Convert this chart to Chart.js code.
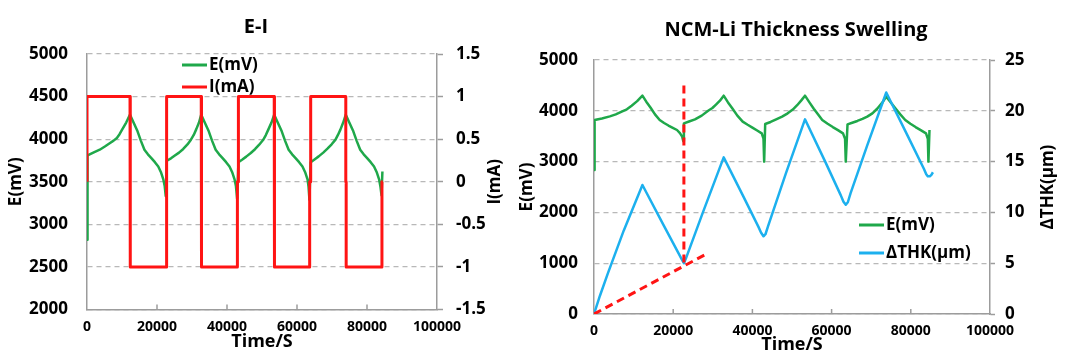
<!DOCTYPE html>
<html><head><meta charset="utf-8">
<script src="https://cdn.jsdelivr.net/npm/chart.js@4.4.1/dist/chart.umd.min.js"></script>
<style>
html,body{margin:0;padding:0;background:#fff;width:1080px;height:361px;overflow:hidden}
#left{position:absolute;left:0;top:0;width:512px;height:361px}
#right{position:absolute;left:512px;top:0;width:568px;height:361px}
</style></head><body>
<div id="left"><canvas id="c1"></canvas></div>
<div id="right"><canvas id="c2"></canvas></div>
<script>
// ---------- Left chart: E-I ----------
const eiTitle = 'E-I';
const eiLabels = ['E(mV)', 'I(mA)'];
const eiXTicks = [0, 20000, 40000, 60000, 80000, 100000];
const eiVoltTime = [0,150,1800,3640,5100,6590,7600,8540,9300,10030,11200,12290,
  13300,14440,15400,16410,17400,18390,19400,20360,21100,21830,22200,22500,
  22810,24000,25000,26300,27500,28700,29700,30500,31200,32000,32640,
  33640,34790,35750,36760,37750,38740,39750,40710,41450,42180,42550,42900,
  43260,44400,45500,46800,48000,49200,50300,51100,51800,52700,53490,
  54490,55640,56600,57610,58600,59590,60600,61560,62300,63030,63300,63550,
  63910,65000,66200,67500,68700,69900,71000,71700,72400,73200,73940,
  74940,76090,77050,78060,79050,80040,81050,82010,82750,83480,83850,84150,84400];
const eiVolt = [2820,3810,3843,3876,3914,3955,3983,4014,4058,4112,4195,4288,
  4195,4092,3980,3876,3822,3778,3730,3680,3615,3524,3450,3330,
  3747,3775,3805,3842,3885,3938,3994,4050,4115,4195,4288,
  4195,4092,3980,3876,3822,3778,3730,3680,3615,3524,3450,3300,
  3730,3762,3795,3838,3882,3935,3990,4048,4112,4195,4288,
  4195,4092,3980,3876,3822,3778,3730,3680,3615,3524,3440,3290,
  3730,3762,3798,3842,3888,3940,3995,4050,4112,4195,4288,
  4195,4092,3980,3876,3822,3778,3730,3680,3615,3524,3440,3340,3620];
const eiCurrTime = [0,0,12290,12290,12400,12400,22620,22620,22810,22810,32640,32640,32750,32750,
  42970,42970,43260,43260,53490,53490,53600,53600,63620,63620,63910,63910,73940,73940,
  74050,74050,84270,84270,84500];
const eiCurr = [0,1,1,0,0,-1,-1,0,0,1,1,0,0,-1,-1,0,0,1,1,0,0,-1,-1,0,0,1,1,0,0,-1,-1,0,0];

// ---------- Right chart: NCM-Li Thickness Swelling ----------
const thkTitle = 'NCM-Li Thickness Swelling';
const thkLabels = ['E(mV)', 'ΔTHK(μm)'];
const thkVoltTime = [0,150,2000,4000,5500,7000,8300,9500,10900,12230,
  13200,14300,15400,16590,17700,18800,19900,20960,21700,22270,22550,22700,
  24000,25500,27200,28820,29900,30800,31800,32750,
  33800,35000,36200,37550,38800,40000,41200,42360,42800,42970,43230,
  44600,46000,47500,48910,50200,51300,52300,53280,
  54400,55500,56600,57640,59000,60300,61600,62880,63400,63580,64020,
  65200,66500,67800,69000,70300,71500,72700,73800,
  75000,76200,77400,78600,79900,81200,82500,83840,84300,84450,84720];
const thkVolt = [2835,3819,3850,3890,3930,3983,4030,4100,4190,4300,
  4180,4060,3930,3819,3760,3710,3665,3622,3560,3491,3400,3753,
  3790,3830,3905,4000,4055,4120,4200,4298,
  4170,4040,3905,3786,3725,3670,3612,3556,3450,3000,3740,
  3780,3830,3885,3950,4025,4110,4200,4298,
  4165,4040,3925,3819,3745,3680,3620,3556,3450,3000,3734,
  3765,3800,3840,3885,3950,4040,4150,4278,
  4160,4040,3925,3819,3745,3680,3620,3556,3450,3000,3622];
const thkTime = [0,1500,3500,7500,12230,17500,22200,22700,23200,27500,32750,37800,
  41500,42200,42800,43300,44000,48500,53280,58500,
  62300,63000,63580,64100,64800,69000,73800,79000,
  83300,83900,84280,84800,85200,85590];
const thkVal = [0,1.8,4.0,8.2,12.7,8.8,5.35,5.0,5.45,10.0,15.42,11.5,
  8.6,8.0,7.65,7.85,8.7,13.9,19.16,14.9,
  11.7,11.05,10.75,11.0,11.9,16.6,21.8,17.7,
  14.3,13.75,13.55,13.55,13.7,13.95];
const guideVertTime = [22700, 22700];
const guideVertVal = [4500, 970];
const guideDiagTime = [0, 28800];
const guideDiagVal = [0, 1200];

const FONT = "'Open Sans', sans-serif";
const GRID = '#b8b8b8', AXIS = '#9c9c9c';
const GREEN = '#1fa84a', RED = '#ff1414', BLUE = '#1cb0ee';
Chart.defaults.font.family = FONT;
Chart.defaults.font.weight = 'bold';
Chart.defaults.color = '#000';

function pts(xs, ys) { return xs.map((x, i) => ({x: x, y: ys[i]})); }

const sideTitle = {
  id: 'sideTitle',
  afterDraw(chart, args, o) {
    if (!o || !o.text) return;
    const ctx = chart.ctx, a = chart.chartArea;
    ctx.save();
    ctx.font = 'bold ' + o.size + 'px ' + FONT;
    ctx.fillStyle = '#000'; ctx.textAlign = 'center'; ctx.textBaseline = 'middle';
    ctx.translate(o.x, (a.top + a.bottom) / 2);
    ctx.rotate(-Math.PI / 2);
    ctx.fillText(o.text, 0, 0);
    ctx.restore();
  }
};
const innerTicks = {
  id: 'innerTicks',
  afterDraw(chart) {
    const s = chart.scales.x, a = chart.chartArea, ctx = chart.ctx;
    ctx.save(); ctx.strokeStyle = AXIS; ctx.lineWidth = 1.5;
    s.ticks.forEach(t => {
      const px = s.getPixelForValue(t.value);
      if (px <= a.left + 1 || px >= a.right - 1) return;
      ctx.beginPath(); ctx.moveTo(px, a.bottom); ctx.lineTo(px, a.bottom - 5); ctx.stroke();
    });
    ctx.restore();
  }
};
const floatLegend = {
  id: 'floatLegend',
  afterDraw(chart, args, o) {
    if (!o || !o.labels) return;
    const ctx = chart.ctx;
    ctx.save();
    ctx.font = 'bold ' + o.size + 'px ' + FONT;
    ctx.textBaseline = 'middle'; ctx.textAlign = 'left';
    let y = o.y;
    o.labels.forEach(lbl => {
      const ds = chart.data.datasets.find(d => d.label === lbl);
      if (!ds) return;
      ctx.strokeStyle = ds.borderColor; ctx.lineWidth = 3; ctx.setLineDash([]);
      ctx.beginPath(); ctx.moveTo(o.x, y); ctx.lineTo(o.x + o.line, y); ctx.stroke();
      ctx.fillStyle = '#000';
      ctx.fillText(lbl, o.x + o.line + o.gap, y);
      y += o.rowGap;
    });
    ctx.restore();
  }
};

function xScale(h, tickPad, titlePadB) {
  return {
    type: 'linear', min: 0, max: 100000,
    afterBuildTicks(s) { s.ticks = eiXTicks.map(v => ({value: v})); },
    ticks: {padding: tickPad, font: {size: 14, weight: 'bold'}, color: '#000', maxRotation: 0, autoSkip: false,
      callback: v => String(v)},
    grid: {display: true, drawOnChartArea: false, drawTicks: false},
    border: {display: true, color: AXIS, width: 1.5},
    title: {display: true, text: 'Time/S', font: {size: 18, weight: 'bold'}, color: '#000', padding: {top: 0, bottom: titlePadB}},
    afterFit(s) { s.height = h; }
  };
}

new Chart(document.getElementById('c1'), {
  type: 'line',
  data: {datasets: [
    {label: eiLabels[1], data: pts(eiCurrTime, eiCurr), yAxisID: 'y1', borderColor: RED, borderWidth: 3, order: 0},
    {label: eiLabels[0], data: pts(eiVoltTime, eiVolt), yAxisID: 'y', borderColor: GREEN, borderWidth: 2.5, order: 1}
  ]},
  options: {
    responsive: true, maintainAspectRatio: false, animation: false,
    elements: {point: {radius: 0}, line: {tension: 0, fill: false, borderJoinStyle: 'round'}},
    layout: {padding: 0},
    plugins: {
      legend: {display: false}, tooltip: {enabled: false},
      title: {display: true, text: eiTitle, font: {size: 20, weight: 'bold'}, color: '#000', padding: {top: 15, bottom: 15}},
      floatLegend: {labels: eiLabels, x: 182, y: 65, line: 25, gap: 2, rowGap: 22, size: 17},
      sideTitle: {text: 'I(mA)', x: 495, size: 17}
    },
    scales: {
      x: xScale(51.5, 9, 8),
      y: {position: 'left', min: 2000, max: 5000,
        ticks: {stepSize: 500, padding: 19, font: {size: 17, weight: 'bold'}, color: '#000', callback: v => String(v)},
        grid: {color: GRID, lineWidth: 1.2, drawTicks: false},
        border: {display: true, color: AXIS, width: 1.5, dash: [5, 4]},
        title: {display: true, text: 'E(mV)', font: {size: 17, weight: 'bold'}, color: '#000', padding: {top: 6, bottom: 0}},
        afterFit(s) { s.width = 87; }},
      y1: {position: 'right', min: -1.5, max: 1.5,
        ticks: {stepSize: 0.5, padding: 13, font: {size: 17, weight: 'bold'}, color: '#000', callback: v => String(Math.round(v * 10) / 10)},
        grid: {drawOnChartArea: false, drawTicks: true, tickLength: 6, tickColor: AXIS, tickWidth: 1.5},
        border: {display: true, color: AXIS, width: 1.5},
        afterFit(s) { s.width = 75; }}
    }
  },
  plugins: [floatLegend, sideTitle, innerTicks]
});

new Chart(document.getElementById('c2'), {
  type: 'line',
  data: {datasets: [
    {label: 'guideV', data: pts(guideVertTime, guideVertVal), yAxisID: 'y', borderColor: RED, borderWidth: 3, borderDash: [8, 5], order: 0},
    {label: 'guideD', data: pts(guideDiagTime, guideDiagVal), yAxisID: 'y', borderColor: RED, borderWidth: 3, borderDash: [8, 5], order: 0},
    {label: thkLabels[1], data: pts(thkTime, thkVal), yAxisID: 'y1', borderColor: BLUE, borderWidth: 2.5, order: 1},
    {label: thkLabels[0], data: pts(thkVoltTime, thkVolt), yAxisID: 'y', borderColor: GREEN, borderWidth: 2.5, order: 2}
  ]},
  options: {
    responsive: true, maintainAspectRatio: false, animation: false,
    elements: {point: {radius: 0}, line: {tension: 0, fill: false, borderJoinStyle: 'round'}},
    layout: {padding: 0},
    plugins: {
      legend: {display: false}, tooltip: {enabled: false},
      title: {display: true, text: thkTitle, font: {size: 20, weight: 'bold'}, color: '#000', padding: {top: 18, bottom: 18}},
      floatLegend: {labels: thkLabels, x: 347, y: 225, line: 25, gap: 2, rowGap: 28, size: 17},
      sideTitle: {text: 'ΔTHK(μm)', x: 536, size: 17}
    },
    scales: {
      x: xScale(47, 9, 5),
      y: {position: 'left', min: 0, max: 5000,
        ticks: {stepSize: 1000, padding: 16, font: {size: 17, weight: 'bold'}, color: '#000', callback: v => String(v)},
        grid: {color: GRID, lineWidth: 1.2, drawTicks: false},
        border: {display: true, color: AXIS, width: 1.5, dash: [5, 4]},
        title: {display: true, text: 'E(mV)', font: {size: 17, weight: 'bold'}, color: '#000', padding: {top: 5, bottom: 0}},
        afterFit(s) { s.width = 82; }},
      y1: {position: 'right', min: 0, max: 25,
        ticks: {stepSize: 5, padding: 10, font: {size: 17, weight: 'bold'}, color: '#000', callback: v => String(v)},
        grid: {drawOnChartArea: false, drawTicks: true, tickLength: 5, tickColor: AXIS, tickWidth: 1.5},
        border: {display: true, color: AXIS, width: 1.5},
        afterFit(s) { s.width = 90; }}
    }
  },
  plugins: [floatLegend, sideTitle, innerTicks]
});
</script>
</body></html>
